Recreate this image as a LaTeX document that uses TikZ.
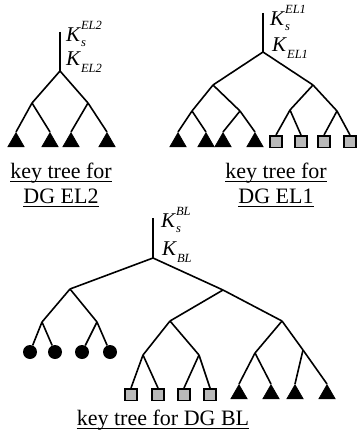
\documentclass[tikz,border=0pt]{standalone}
\usepackage{fontspec}
\setmainfont{Liberation Serif}
\usetikzlibrary{shapes.geometric}

% small italic size used for key indices
\newcommand{\idxsize}{\fontsize{12.5}{12.5}\selectfont}
% K with lower index s and upper index #1
\newcommand{\keySess}[1]{\textit{K}\makebox[0pt][l]{\raisebox{12pt}{\idxsize\textit{#1}}}\raisebox{-5pt}{\idxsize\textit{s}}}
% K with lower index #1
\newcommand{\keyGrp}[1]{\textit{K}\raisebox{-7pt}{\idxsize\textit{#1}}}

\begin{document}
\begin{tikzpicture}[x=1pt,y=-1pt,
  treeline/.style={line width=1.6pt},
  uline/.style={line width=1.1pt},
  leaftri/.style={regular polygon, regular polygon sides=3, fill=black, draw=black,
    line width=0.6pt, minimum size=19pt, inner sep=0pt, anchor=corner 1},
  leafsq/.style={rectangle, draw=black, line width=1.8pt, fill=gray!55,
    minimum size=11.5pt, inner sep=0pt, anchor=north},
  leafdot/.style={circle, fill=black, minimum size=14pt, inner sep=0pt},
  keylab/.style={inner sep=0pt, anchor=base west, font=\fontsize{21}{21}\selectfont},
  captext/.style={inner sep=0pt, anchor=base, font=\fontsize{22}{22}\selectfont}]
\useasboundingbox (0,0) rectangle (358,441);

% ---------- key tree for DG EL2 ----------
\coordinate (a-top) at (60,32);
\coordinate (a) at (60,71);
\coordinate (a1) at (32,103);
\coordinate (a2) at (88,103);
\node[leaftri] (a11) at (16,132) {};
\node[leaftri] (a12) at (50,132) {};
\node[leaftri] (a21) at (71,132) {};
\node[leaftri] (a22) at (107,132) {};
\draw[treeline] (a-top) -- (a);
\draw[treeline] (a) -- (a1);
\draw[treeline] (a) -- (a2);
\draw[treeline] (a1) -- (a11.corner 1);
\draw[treeline] (a1) -- (a12.corner 1);
\draw[treeline] (a2) -- (a21.corner 1);
\draw[treeline] (a2) -- (a22.corner 1);
\node[keylab] (a-ks) at (66,42) {\keySess{EL2}};
\node[keylab] (a-kg) at (66,66) {\keyGrp{EL2}};

\node[captext] (a-c1) at (61,178) {key tree for};
\node[captext] (a-c2) at (61,203) {DG EL2};
\draw[uline] ([yshift=-3.5pt]a-c1.base west) -- ([yshift=-3.5pt]a-c1.base east);
\draw[uline] ([yshift=-3.5pt]a-c2.base west) -- ([yshift=-3.5pt]a-c2.base east);

% ---------- key tree for DG EL1 ----------
\coordinate (b-top) at (263,13);
\coordinate (b) at (263,52);
\coordinate (b1) at (213,85);
\coordinate (b2) at (313,85);
\coordinate (b11) at (192,111);
\coordinate (b12) at (240,111);
\coordinate (b21) at (290,110);
\coordinate (b22) at (337,111);
\node[leaftri] (b111) at (178,132) {};
\node[leaftri] (b112) at (206,132) {};
\node[leaftri] (b121) at (223,132) {};
\node[leaftri] (b122) at (255,132) {};
\node[leafsq] (b211) at (276,135) {};
\node[leafsq] (b212) at (301,135) {};
\node[leafsq] (b221) at (324,135) {};
\node[leafsq] (b222) at (350,135) {};
\draw[treeline] (b-top) -- (b);
\draw[treeline] (b) -- (b1);
\draw[treeline] (b) -- (b2);
\draw[treeline] (b1) -- (b11);
\draw[treeline] (b1) -- (b12);
\draw[treeline] (b2) -- (b21);
\draw[treeline] (b2) -- (b22);
\draw[treeline] (b11) -- (b111.corner 1);
\draw[treeline] (b11) -- (b112.corner 1);
\draw[treeline] (b12) -- (b121.corner 1);
\draw[treeline] (b12) -- (b122.corner 1);
\draw[treeline] (b21) -- (b211.north);
\draw[treeline] (b21) -- (b212.north);
\draw[treeline] (b22) -- (b221.north);
\draw[treeline] (b22) -- (b222.north);
\node[keylab] (b-ks) at (270,26) {\keySess{EL1}};
\node[keylab] (b-kg) at (272,52) {\keyGrp{EL1}};

\node[captext] (b-c1) at (276,178) {key tree for};
\node[captext] (b-c2) at (276,203) {DG EL1};
\draw[uline] ([yshift=-3.5pt]b-c1.base west) -- ([yshift=-3.5pt]b-c1.base east);
\draw[uline] ([yshift=-3.5pt]b-c2.base west) -- ([yshift=-3.5pt]b-c2.base east);

% ---------- key tree for DG BL ----------
\coordinate (c-top) at (153,218);
\coordinate (c) at (153,258);
\coordinate (c1) at (70,289);
\coordinate (c2) at (223,290);
\coordinate (c11) at (42,322);
\coordinate (c12) at (97,322);
\coordinate (c21) at (170,321);
\coordinate (c22) at (282,321);
\coordinate (c211) at (143,355);
\coordinate (c212) at (199,355);
\coordinate (c221) at (255,353);
\coordinate (c222) at (303,350);
\node[leafdot] (c111) at (30,352) {};
\node[leafdot] (c112) at (55,352) {};
\node[leafdot] (c121) at (82,352) {};
\node[leafdot] (c122) at (110,352) {};
\node[leafsq] (c2111) at (131,388) {};
\node[leafsq] (c2112) at (158,388) {};
\node[leafsq] (c2121) at (184,388) {};
\node[leafsq] (c2122) at (210,388) {};
\node[leaftri] (c2211) at (239,384) {};
\node[leaftri] (c2212) at (271,384) {};
\node[leaftri] (c2221) at (295,384) {};
\node[leaftri] (c2222) at (327,384) {};
\draw[treeline] (c-top) -- (c);
\draw[treeline] (c) -- (c1);
\draw[treeline] (c) -- (c2);
\draw[treeline] (c1) -- (c11);
\draw[treeline] (c1) -- (c12);
\draw[treeline] (c11) -- (c111);
\draw[treeline] (c11) -- (c112);
\draw[treeline] (c12) -- (c121);
\draw[treeline] (c12) -- (c122);
\draw[treeline] (c2) -- (c21);
\draw[treeline] (c2) -- (c22);
\draw[treeline] (c21) -- (c211);
\draw[treeline] (c21) -- (c212);
\draw[treeline] (c22) -- (c221);
\draw[treeline] (c22) -- (c222);
\draw[treeline] (c211) -- (c2111.north);
\draw[treeline] (c211) -- (c2112.north);
\draw[treeline] (c212) -- (c2121.north);
\draw[treeline] (c212) -- (c2122.north);
\draw[treeline] (c221) -- (c2211.corner 1);
\draw[treeline] (c221) -- (c2212.corner 1);
\draw[treeline] (c222) -- (c2221.corner 1);
\draw[treeline] (c222) -- (c2222.corner 1);
\node[keylab] (c-ks) at (161,227) {\keySess{BL}};
\node[keylab] (c-kg) at (162,255) {\keyGrp{BL}};

\node[captext] (c-cap) at (163,425) {key tree for DG BL};
\draw[uline] ([yshift=-3.5pt]c-cap.base west) -- ([yshift=-3.5pt]c-cap.base east);
\end{tikzpicture}
\end{document}
